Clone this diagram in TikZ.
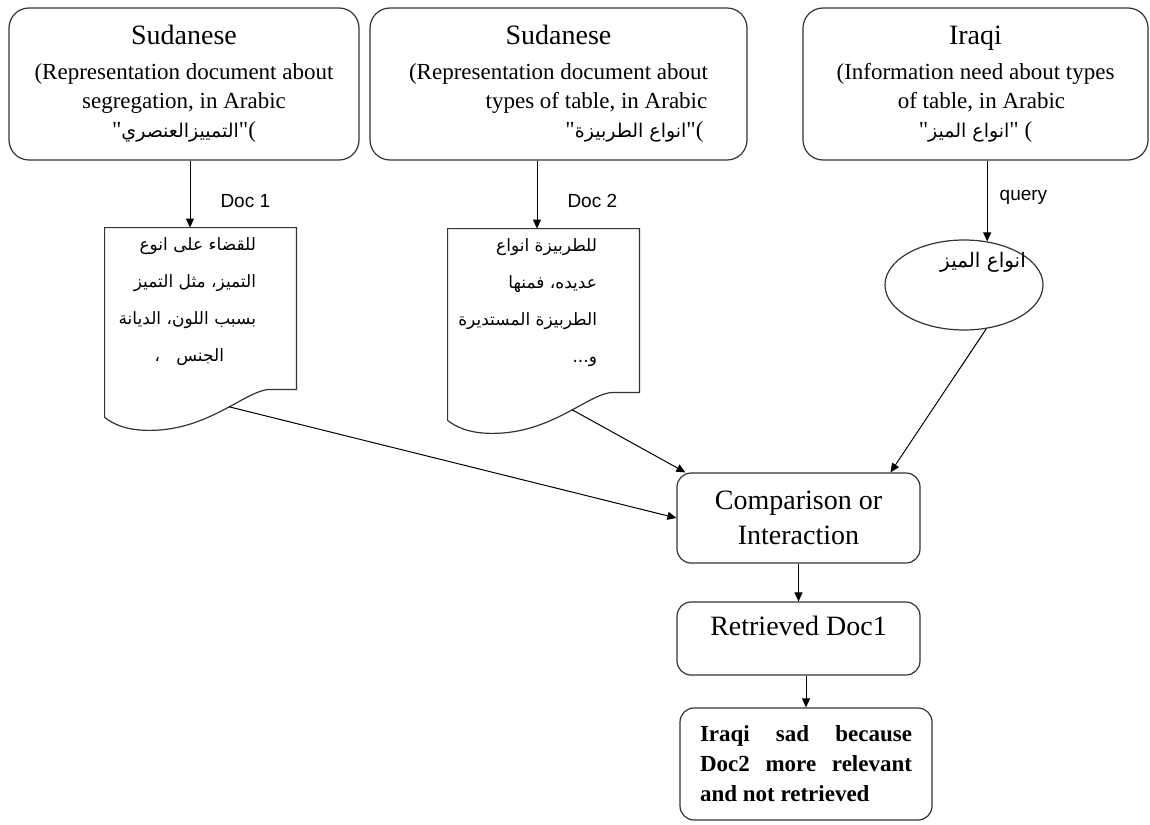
\documentclass[tikz,border=0pt]{standalone}
\usepackage{fontspec}
\setmainfont{Liberation Serif}
\newfontfamily\qfont{Liberation Serif}
\newfontfamily\labelfont{Liberation Sans}
\newfontfamily\arabicfont[Script=Arabic]{DejaVu Sans}
\TeXXeTstate=1
\usetikzlibrary{shapes.geometric, arrows.meta, positioning}
\newcommand{\artext}[1]{{\arabicfont\fontsize{9.5}{14.5}\selectfont\beginR #1\endR}}
\newcommand{\titletext}[1]{{\fontsize{14}{17}\selectfont #1}\\[3pt]}
\newcommand{\sq}{{\qfont"}}
\tikzset{
  actor/.style={rectangle, draw=black!80, line width=0.6pt, rounded corners=10pt,
                align=center, inner sep=0pt, minimum height=76pt,
                font=\fontsize{11.5}{14.5}\selectfont},
  stepbox/.style={rectangle, draw=black!80, line width=0.6pt, rounded corners=7pt,
                  align=center, minimum width=121.5pt,
                  font=\fontsize{14}{17.5}\selectfont},
  docbox/.style={rectangle, minimum width=95.5pt, minimum height=95pt, inner sep=0pt},
  docline/.style={draw=black!80, line width=0.6pt},
  doctext/.style={anchor=north east, align=right, inner sep=0pt,
                  font=\arabicfont\fontsize{8.5}{18.5}\selectfont},
  query/.style={ellipse, draw=black!80, line width=0.6pt, minimum width=79pt,
                minimum height=45pt, inner sep=0pt},
  arrow/.style={-{Triangle[length=4.5pt,width=4pt]}, line width=0.5pt, black},
  lbl/.style={font=\labelfont\fontsize{9.5}{11}\selectfont, inner sep=0pt},
}
% document shape with a wavy bottom, plus a coordinate on the wave
\newcommand{\docoutline}[1]{%
  \draw[docline] (#1.north west) -- (#1.north east) -- ([yshift=14pt]#1.south east)
    -- ([shift={(-13pt,14pt)}]#1.south east)
    .. controls ([shift={(-25pt,14pt)}]#1.south east) and ([shift={(52.5pt,-6.5pt)}]#1.south west)
    .. ([shift={(22.5pt,-6.5pt)}]#1.south west) coordinate[pos=0.45] (#1w)
    .. controls ([shift={(10pt,-6.5pt)}]#1.south west) and ([shift={(4pt,-3pt)}]#1.south west)
    .. (#1.south west) -- cycle;}

\begin{document}
\begin{tikzpicture}[x=0.5pt, y=-0.5pt]
  \useasboundingbox (0,0) rectangle (1150,824);

  % Top row: who holds what
  \node[actor, minimum width=175pt] (sud1) at (184,84)
    {\titletext{Sudanese}(Representation document about\\segregation, in Arabic\\
     \sq\artext{التمييزالعنصري}\sq(};
  \node[actor, minimum width=188.5pt] (sud2) at (558.5,84)
    {\titletext{Sudanese}(Representation document about\\
     \hspace*{38pt}types of table, in Arabic\\
     \hspace*{76pt}\sq\artext{انواع الطربيزة}\sq(};
  \node[actor, minimum width=172.5pt] (iraqi) at (975.5,84)
    {\titletext{Iraqi}(Information need about types\hspace*{14pt}\\
     \hspace*{6pt}of table, in Arabic\\
     \sq\artext{انواع الميز}\sq\ (};

  % Documents
  \node[docbox, minimum height=94.5pt] (doc1) at (200.5,322.5) {};
  \node[docbox, minimum height=95.5pt] (doc2) at (543.5,324.5) {};
  \docoutline{doc1}
  \docoutline{doc2}
  \node[doctext] (doc1txt) at ([shift={(-20pt,-5pt)}]doc1.north east)
    {\beginR للقضاء على انوع\endR\\
     \beginR التميز، مثل التميز\endR\\
     \beginR بسبب اللون، الديانة\endR\\
     \beginR الجنس ~ ،\endR\hspace*{16pt}};
  \node[doctext] (doc2txt) at ([shift={(-21pt,-5pt)}]doc2.north east)
    {\beginR للطربيزة انواع\endR\\
     \beginR عديده، فمنها\endR\\
     \beginR الطربيزة المستديرة\endR\\
     \beginR و...\endR};

  % Query
  \node[query] (qry) at (964,285) {};
  \node[inner sep=0pt, font=\arabicfont\fontsize{10}{12}\selectfont] (qrytxt)
    at ([shift={(9.5pt,11.5pt)}]qry.center) {\beginR انواع الميز\endR};

  % Matching and result
  \node[stepbox, minimum height=45pt] (cmp) at (798.5,518) {Comparison or\\Interaction};
  \node[stepbox, minimum height=36.5pt, text depth=13pt] (ret) at (798.5,638.5) {Retrieved Doc1};
  \node[stepbox, minimum width=126pt, minimum height=56pt, text width=106pt,
        inner xsep=10pt, align=justify, font=\bfseries\fontsize{11.5}{15}\selectfont]
    (sad) at (806,764) {\tolerance=9999 Iraqi sad because Doc2 more relevant and not retrieved};

  % Arrows
  \coordinate (d1in) at ([xshift=-5.25pt]doc1.north);
  \coordinate (d2in) at ([xshift=-3.25pt]doc2.north);
  \draw[arrow] (sud1.south -| d1in) -- (d1in) node[lbl, pos=0.6, right=15pt] {Doc 1};
  \draw[arrow] (sud2.south -| d2in) -- (d2in) node[lbl, pos=0.6, right=15pt] {Doc 2};
  \draw[arrow] (iraqi.south -| qry.62) -- (qry.62) node[lbl, pos=0.45, right=6pt] {query};
  \draw[arrow] (doc1w) -- (cmp.west);
  \draw[arrow] (doc2w) -- ([xshift=4.5pt]cmp.north west);
  \draw[arrow] (qry.-63) -- ([xshift=46pt]cmp.north);
  \draw[arrow] (cmp.south) -- (ret.north);
  \draw[arrow] (ret.south -| sad.north) -- (sad.north);

\end{tikzpicture}
\end{document}
